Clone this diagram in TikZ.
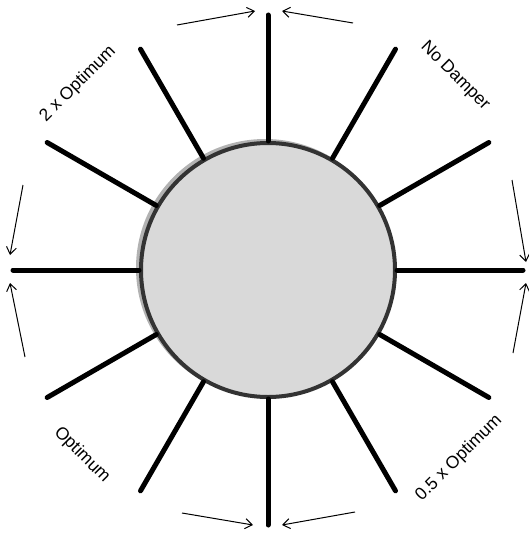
\documentclass[tikz,border=0pt]{standalone}
\usepackage{fontspec}
\setmainfont{Liberation Sans}
\usetikzlibrary{arrows.meta}
\tikzset{
  spoke/.style={line width=5pt,line cap=round},
  motion/.style={-{Straight Barb[length=7pt,width=10pt]},line width=1pt},
  lbl/.style={font=\fontsize{17.5}{20}\selectfont,inner sep=0pt}
}

\begin{document}
\begin{tikzpicture}[x=1pt,y=-1pt]
  \useasboundingbox (0,0) rectangle (529,535);
  \coordinate (O) at (268,270);
  % soft edge of the disc
  \draw[gray!60,line width=4pt] (265,268) circle (127);
  \node (hub) [circle,draw=black!80,line width=4pt,fill=gray!30,
    minimum size=254pt,inner sep=0pt] at (O) {};
  \foreach \a in {0,30,...,330}{
    \coordinate (tip\a) at ([shift={(-\a:255)}]O);
    \draw[spoke] (hub.\a) -- (tip\a);
  }
  % swing arrows at the four main spokes
  \foreach \n/\x/\y/\u/\v in {t1/177/25/255/11, t2/353/23/282/11,
      l1/23/185/10/255, l2/25/357/10/283,
      r1/512/180/526/262, r2/513/353/526/283,
      b1/182/513/253/525, b2/355/512/282/525}{
    \coordinate (\n s) at (\x,\y);
    \coordinate (\n e) at (\u,\v);
    \draw[motion] (\n s) -- (\n e);
  }
  \node[lbl,rotate=45] (twice) at (78,84) {2 x Optimum};
  \node[lbl,rotate=-45] (nodamp) at (455,76) {No Damper};
  \node[lbl,rotate=-45] (optim) at (82,455) {Optimum};
  \node[lbl,rotate=45] (half) at (459,458) {0.5 x Optimum};
\end{tikzpicture}
\end{document}
